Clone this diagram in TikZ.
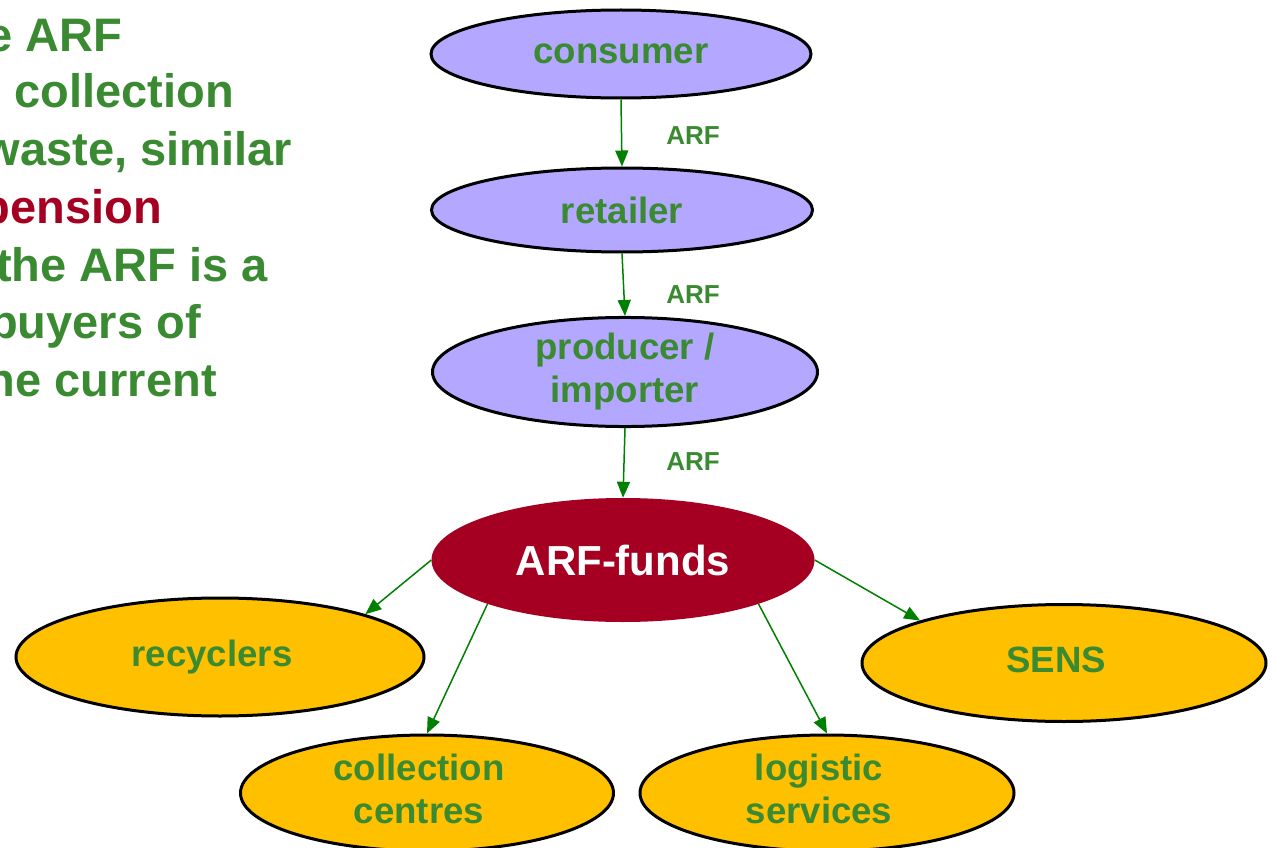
\documentclass[tikz,border=0pt]{standalone}
\usepackage{fontspec}
\setmainfont{Liberation Sans}
\usetikzlibrary{arrows.meta,shapes.geometric}
\definecolor{txtgreen}{RGB}{58,138,50}
\definecolor{arrgreen}{RGB}{0,128,0}
\definecolor{lav}{RGB}{180,167,255}
\definecolor{gold}{RGB}{255,192,0}
\definecolor{darkred}{RGB}{165,0,33}
\newcommand{\shl}{\hspace*{-16pt}}
\tikzset{
  oval/.style={ellipse, draw=black, line width=3pt, inner sep=0pt, align=center,
    text=txtgreen, font=\bfseries\fontsize{36.6}{43}\selectfont},
  chainbox/.style={oval, fill=lav},
  sinkbox/.style={oval, fill=gold},
  fundbox/.style={ellipse, fill=darkred, inner sep=0pt, text=white,
    font=\bfseries\fontsize{42}{48}\selectfont},
  flow/.style={draw=arrgreen, line width=1.5pt, -{Triangle[length=16pt,width=13pt]}},
  arflabel/.style={text=txtgreen, font=\bfseries\fontsize{26}{30}\selectfont},
  sidetext/.style={anchor=base east, text=txtgreen, inner sep=0pt,
    font=\bfseries\fontsize{47}{57}\selectfont},
}
\begin{document}
\begin{tikzpicture}[x=1pt,y=-1pt]
\clip (0,0) rectangle (1272,848);
\fill[white] (0,0) rectangle (1272,848);

% left text (cropped in the reference)
\node[sidetext] (t1) at (122,52) {e ARF};
\node[sidetext] (t2) at (234,108) {collection};
\node[sidetext] (t3) at (292,165) {waste, similar};
\node[sidetext, text=darkred] (t4) at (162,223) {pension};
\node[sidetext] (t5) at (268,281) {the ARF is a};
\node[sidetext] (t6) at (201,338) {buyers of};
\node[sidetext] (t7) at (217,396) {he current};

% chain
\node[chainbox, minimum width=380pt, minimum height=88pt] (cons) at (621,54) {consumer};
\node[chainbox, minimum width=381pt, minimum height=84pt] (ret) at (622,210) {retailer};
\node[chainbox, minimum width=385pt, minimum height=108pt] (prod) at (625,372) {producer /\\importer};
\node[fundbox, minimum width=383pt, minimum height=124pt] (fund) at (623,560) {ARF-funds};

% recipients
\node[sinkbox, minimum width=408pt, minimum height=118pt] (rec) at (220,657) {\shl recyclers};
\node[sinkbox, minimum width=404pt, minimum height=117pt] (sens) at (1064,663) {\shl SENS\rule[-6pt]{0pt}{0pt}};
\node[sinkbox, minimum width=373pt, minimum height=116pt] (coll) at (427,793) {\shl collection\\\shl centres\rule[-9pt]{0pt}{0pt}};
\node[sinkbox, minimum width=374pt, minimum height=116pt] (logi) at (827,793) {\shl logistic\\\shl services\rule[-9pt]{0pt}{0pt}};

% arrows
\draw[flow] (cons.south) -- (ret.north);
\draw[flow] (ret.south) -- (prod.north);
\draw[flow] (prod.south) -- (fund.north);
\draw[flow] (fund.west) -- (rec.north east);
\draw[flow] (fund.south west) -- (coll.north);
\draw[flow] (fund.south east) -- (logi.north);
\draw[flow] (fund.east) -- (sens.north west);

% labels
\node[arflabel] (l1) at (693,136) {ARF};
\node[arflabel] (l2) at (693,295) {ARF};
\node[arflabel] (l3) at (693,462) {ARF};
\end{tikzpicture}
\end{document}
